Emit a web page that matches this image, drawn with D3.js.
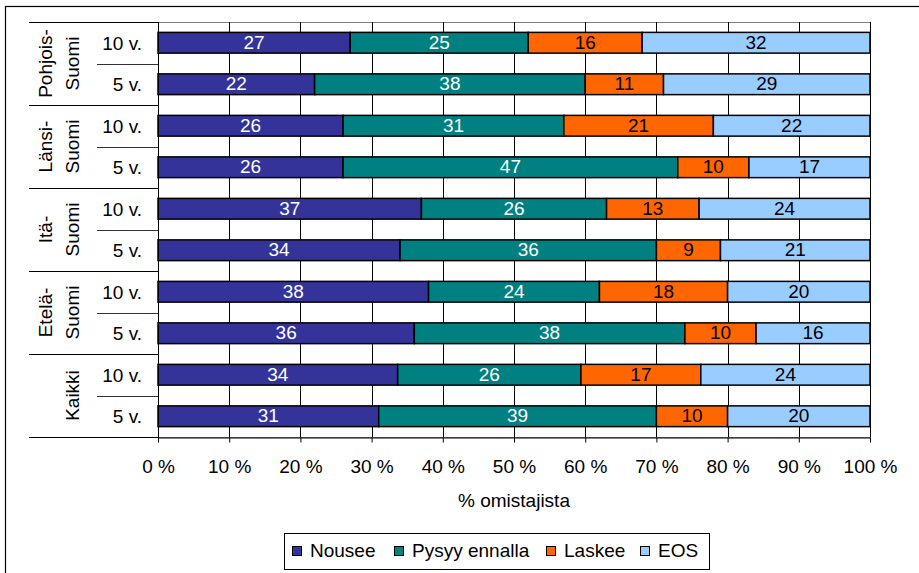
<!DOCTYPE html>
<html><head><meta charset="utf-8">
<script src="https://cdn.jsdelivr.net/npm/d3@7"></script>
<style>
html,body{margin:0;padding:0;background:#fff;}
svg{display:block;font-family:"Liberation Sans",Arial,sans-serif;}
</style></head>
<body>
<svg id="c" width="919" height="573"></svg>
<script>
// ---- data ----
const groups = [["Pohjois-","Suomi"],["Länsi-","Suomi"],["Itä-","Suomi"],["Etelä-","Suomi"],["Kaikki"]];
const periods = ["10 v.","5 v."];
const seriesNames = ["Nousee","Pysyy ennalla","Laskee","EOS"];
const seriesColors = ["#333399","#008080","#FF6600","#99CCFF"];
const labelColors = ["#ffffff","#ffffff","#000000","#000000"];
const nousee = [27,22,26,26,37,34,38,36,34,31];
const pysyy  = [25,38,31,47,26,36,24,38,26,39];
const laskee = [16,11,21,10,13,9,18,10,17,10];
const eos    = [32,29,22,17,24,21,20,16,24,20];
const xTicks = [0,10,20,30,40,50,60,70,80,90,100];
const xTitle = "% omistajista";

// ---- build rows ----
const rows = [];
groups.forEach((g,gi)=>periods.forEach((p,pi)=>{
  const i = gi*2+pi;
  rows.push({id:i, group:gi, period:p, vals:[nousee[i],pysyy[i],laskee[i],eos[i]]});
}));

const svg = d3.select("#c");
const L=158, R=870, T=22, B=437;
const x = d3.scaleLinear().domain([0,100]).range([L,R]);
const y = d3.scaleBand().domain(rows.map(r=>r.id)).range([T,B]).paddingInner(0.5).paddingOuter(0.25);
const rowH = (B-T)/rows.length;

// outer frame
svg.append("rect").attr("x",5.5).attr("y",6.5).attr("width",930).attr("height",600)
  .attr("fill","none").attr("stroke","#000").attr("stroke-width",1.2);

// plot border
svg.append("rect").attr("x",L+0.5).attr("y",T+0.5).attr("width",R-L).attr("height",B-T)
  .attr("fill","none").attr("stroke","#808080").attr("stroke-width",1);

// gridlines
svg.append("g").selectAll("line").data(xTicks.filter(t=>t>0)).join("line")
  .attr("x1",d=>Math.round(x(d))+0.5).attr("x2",d=>Math.round(x(d))+0.5)
  .attr("y1",T).attr("y2",B).attr("stroke","#000").attr("stroke-width",1);

// x axis
const xAxis = d3.axisBottom(x).tickValues(xTicks).tickFormat(d=>d+" %").tickSize(5).tickSizeOuter(0);
const gx = svg.append("g").attr("transform",`translate(0,${B+0.5})`).call(xAxis);
gx.select(".domain").attr("stroke","#000");
gx.selectAll(".tick line").attr("stroke","#000");
gx.selectAll(".tick text").attr("font-size",19).attr("fill","#000").attr("font-family","Liberation Sans, Arial, sans-serif").attr("y",22);

// axis title
svg.append("text").attr("x",(L+R)/2).attr("y",507).attr("text-anchor","middle")
  .attr("font-size",19).attr("fill","#000").text(xTitle);

// stacked bars (100% stacked)
const stackData = rows.map(r=>{
  const tot = d3.sum(r.vals); let acc=0;
  return r.vals.map((v,k)=>{const s={row:r.id,k,v,x0:acc/tot*100,x1:(acc+v)/tot*100}; acc+=v; return s;});
});
const segs = stackData.flat();
svg.append("g").selectAll("rect").data(segs).join("rect")
  .attr("x",d=>x(d.x0)).attr("width",d=>x(d.x1)-x(d.x0))
  .attr("y",d=>y(d.row)).attr("height",y.bandwidth())
  .attr("fill",d=>seriesColors[d.k]).attr("stroke","#000").attr("stroke-width",1.5);
svg.append("g").selectAll("text").data(segs).join("text")
  .attr("x",d=>(x(d.x0)+x(d.x1))/2).attr("y",d=>y(d.row)+y.bandwidth()/2+6)
  .attr("text-anchor","middle").attr("font-size",19).attr("fill",d=>labelColors[d.k])
  .text(d=>d.v);

// left axis line
svg.append("line").attr("x1",L+0.5).attr("x2",L+0.5).attr("y1",T).attr("y2",B+5)
  .attr("stroke","#000").attr("stroke-width",1);

// category separators
const gsep = svg.append("g").attr("stroke","#000").attr("stroke-width",1);
for(let i=0;i<=rows.length;i++){
  const yy = Math.round(T+i*rowH)+0.5;
  const long = i%2===0;
  gsep.append("line").attr("x1",long?29:97).attr("x2",L).attr("y1",yy).attr("y2",yy)
    .attr("stroke",long?"#000":"#333");
}

// period labels
svg.append("g").selectAll("text").data(rows).join("text")
  .attr("x",142).attr("y",d=>y(d.id)+y.bandwidth()/2+7).attr("text-anchor","end")
  .attr("font-size",19).attr("fill","#000").text(d=>d.period);

// group labels (rotated)
groups.forEach((g,gi)=>{
  const cy = T + (gi*2+1)*rowH;
  const n = g.length;
  g.forEach((line,li)=>{
    const bx = 79 - (n-1-li)*27;
    svg.append("text").attr("transform",`translate(${bx},${cy}) rotate(-90)`)
      .attr("text-anchor","middle").attr("font-size",19).attr("fill","#000").text(line);
  });
});

// legend
const lg = svg.append("g");
lg.append("rect").attr("x",284.5).attr("y",533.5).attr("width",425).attr("height",36)
  .attr("fill","#fff").attr("stroke","#000").attr("stroke-width",1);
const legX = [292,394,546,640];
seriesNames.forEach((s,k)=>{
  lg.append("rect").attr("x",legX[k]+0.5).attr("y",546.5).attr("width",9).attr("height",9)
    .attr("fill",seriesColors[k]).attr("stroke","#000").attr("stroke-width",1);
  lg.append("text").attr("x",legX[k]+18).attr("y",557).attr("font-size",19).attr("fill","#000").text(s);
});
</script>
</body></html>
